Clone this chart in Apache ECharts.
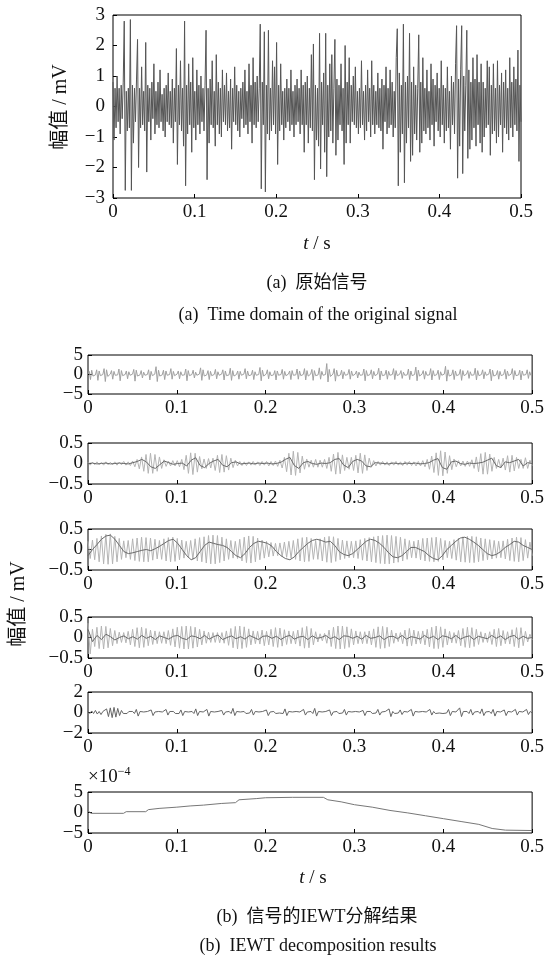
<!DOCTYPE html>
<html>
<head>
<meta charset="utf-8">
<script src="https://cdn.jsdelivr.net/npm/echarts@6/dist/echarts.min.js"></script>
<style>
html, body { margin: 0; padding: 0; background: #fff; }
#chart { width: 547px; height: 968px; }
</style>
</head>
<body>
<div id="chart"></div>
<script>
// ---------- data ----------
const T_END = 0.5;                      // record length, s
const xTicks = [0, 0.1, 0.2, 0.3, 0.4, 0.5];

// (a) raw signal, mV (uniformly sampled over 0..0.5 s)
const originalSignal = [
  0.8, -1.1, 0.6, -0.7, 1.0, -0.5, 0.6, -0.9, 0.7, -0.4, 0.8, 2.8, -2.75, 0.5, -0.8, 0.6, -0.7, 2.85, -2.75, 0.7,
  -1.2, 0.6, -0.5, 0.9, 2.2, -2.0, 0.6, -0.7, 1.3, -0.6, 0.5, -0.8, 2.1, -2.15, 0.7, -0.5, 0.6, -1.1, 0.8, -0.4,
  1.4, -0.9, 0.5, -0.6, 0.8, -0.7, 1.2, -0.5, 0.4, -0.8, 0.6, -1.0, 0.7, -0.5, 1.1, -0.6, 0.5, -0.7, 0.9, -1.2,
  0.6, -0.5, 1.9, -1.9, 0.7, -0.6, 1.5, -0.8, 0.6, -1.3, 2.8, -2.6, 0.7, -0.9, 1.4, -0.6, 0.8, -1.5, 1.6, -0.7,
  0.5, -1.1, 1.2, -0.6, 0.7, -0.9, 1.0, -0.5, 0.6, -0.8, 0.7, 2.5, -2.4, 0.6, -1.2, 0.9, -0.6, 1.5, -0.7, 0.5,
  -1.3, 1.7, -0.6, 0.8, -0.9, 0.6, -1.0, 1.2, -0.5, 0.7, -0.6, 1.1, -0.8, 0.5, -0.7, 0.9, -1.4, 0.6, -0.5, 1.3,
  -0.6, 0.7, -0.8, 0.5, -1.0, 0.6, -0.4, 0.8, -0.7, 1.2, -0.6, 0.5, -0.9, 1.4, -0.5, 0.7, -1.2, 1.6, -0.6, 0.8,
  -0.7, 1.0, -0.5, 0.6, 2.7, -2.7, 0.8, -0.6, 2.45, -2.8, 0.7, -0.9, 2.5, -1.1, 0.6, -0.8, 1.5, -0.6, 1.3, -0.9,
  2.1, -1.9, 0.7, -0.8, 1.4, -0.6, 0.5, -1.1, 0.6, -0.7, 0.9, -0.5, 0.6, -0.8, 1.2, -0.6, 0.5, -1.0, 0.7, -0.6,
  0.9, -0.5, 0.6, -0.9, 1.2, -0.6, 0.7, -1.5, 0.8, -0.6, 1.0, -1.2, 0.6, -0.7, 1.7, -0.8, 2.05, -2.4, 0.7, -1.1,
  0.6, -1.3, 2.4, -2.05, 0.8, -0.6, 1.1, -1.5, 2.4, -2.3, 0.7, -1.0, 1.4, -0.8, 1.7, -1.2, 0.6, 2.2, -1.6, 0.9,
  -1.1, 0.7, -0.6, 1.4, -0.8, 0.6, -1.9, 2.0, -1.2, 0.8, -0.6, 1.6, -1.2, 0.7, -0.5, 1.0, -0.6, 1.3, -0.7, 0.5,
  -0.9, 0.6, -0.7, 1.5, -0.6, 0.5, -1.1, 0.7, -0.8, 1.2, -0.5, 0.6, -1.0, 1.5, -0.6, 0.7, -0.9, 0.5, -0.6, 1.1,
  -0.7, 0.6, -0.8, 0.9, -1.4, 0.7, -0.5, 1.3, -0.9, 0.6, -0.7, 1.2, -0.6, 0.8, -1.0, 0.5, -0.7, 1.6, 2.55, -2.6,
  1.1, -1.5, 0.7, -0.9, 2.7, -2.5, 0.8, -1.2, 1.0, -0.7, 2.4, -1.8, 0.8, -1.6, 1.3, -0.9, 0.7, -1.1, 0.6, 2.35,
  -1.5, 0.8, -1.2, 1.6, -0.8, 0.6, -0.9, 1.2, -0.7, 0.5, -1.1, 1.4, -0.6, 0.9, -1.3, 0.7, -0.5, 1.1, -0.8, 0.6,
  -1.0, 1.5, -0.6, 0.7, -1.2, 0.6, -0.8, 1.3, -0.7, 0.5, -1.4, 1.0, -0.6, 0.8, -0.9, 1.4, 2.65, -2.35, 0.9, -1.3,
  1.2, 2.65, -2.2, 1.0, -0.8, 0.7, 2.5, -1.7, 1.2, -1.4, 0.8, -1.1, 1.6, -0.7, 0.9, -1.3, 1.7, -0.6, 0.8, -1.2,
  1.4, -1.5, 0.8, -1.0, 0.6, -0.7, 1.5, -0.6, 1.3, -1.6, 0.7, -0.9, 1.4, -0.8, 0.6, -1.2, 1.5, -1.0, 0.7, -0.6,
  1.1, -1.5, 0.8, -0.7, 1.2, -0.9, 0.6, -1.1, 1.6, -0.7, 0.8, -1.0, 1.3, -0.6, 0.9, -0.8, 1.85, -1.8, 0.7, -0.5
];

// (b) IEWT components, mV
const mode1 = [
  0.1, 0.8, -1.3, 1.1, -0.4, 0.0, -0.1, 1.2, -1.5, 0.9, -0.3, 0.1, 0.0, 1.5, -1.8, 1.2, -0.5, -0.1, 0.1, 1.0, -1.2, 0.8, -0.2, 0.0,
  -0.1, 1.4, -1.6, 1.0, -0.3, 0.1, 0.0, 0.9, -1.1, 0.7, -0.2, -0.1, 0.1, 1.3, -1.7, 1.1, -0.4, 0.0, -0.1, 1.0, -0.9, 0.6, -0.2, 0.1,
  0.0, 1.2, -1.4, 0.8, -0.3, -0.1, 0.1, 2.0, -1.8, 1.1, -0.4, 0.0, -0.1, 1.1, -1.3, 0.9, -0.2, 0.1, 0.0, 1.5, -1.2, 0.8, -0.3, -0.1,
  0.1, 0.9, -1.1, 0.7, -0.2, 0.0, -0.1, 1.4, -1.6, 1.0, -0.3, 0.1, 0.0, 1.1, -0.9, 0.6, -0.2, -0.1, 0.1, 1.7, -1.5, 1.2, -0.4, 0.0,
  -0.1, 1.0, -1.3, 0.8, -0.3, 0.1, 0.0, 1.3, -1.1, 0.7, -0.2, -0.1, 0.1, 1.2, -1.4, 0.9, -0.3, 0.0, -0.1, 1.6, -1.5, 1.0, -0.4, 0.1,
  0.0, 0.9, -1.2, 0.8, -0.2, -0.1, 0.1, 1.5, -1.1, 0.9, -0.3, 0.0, -0.1, 1.1, -1.3, 0.7, -0.2, 0.1, 0.0, 1.8, -1.6, 1.1, -0.4, -0.1,
  0.1, 1.2, -1.1, 0.7, -0.3, 0.0, -0.1, 1.0, -1.4, 0.9, -0.2, 0.1, 0.0, 1.3, -1.2, 0.8, -0.3, -0.1, 0.1, 0.9, -1.3, 1.0, -0.2, 0.0,
  -0.1, 1.4, -1.2, 0.9, -0.3, 0.1, 0.0, 1.5, -1.4, 1.0, -0.4, -0.1, 0.1, 1.3, -1.5, 1.0, -0.3, 0.0, -0.1, 1.7, -1.2, 0.8, -0.2, 0.1,
  0.0, 2.8, -1.9, 1.3, -0.5, -0.1, 0.1, 1.5, -1.7, 1.1, -0.4, 0.0, -0.1, 1.1, -1.1, 0.7, -0.2, 0.1, 0.0, 1.3, -1.2, 0.9, -0.3, -0.1,
  0.1, 0.9, -0.9, 0.6, -0.2, 0.0, -0.1, 1.4, -1.6, 1.0, -0.3, 0.1, 0.0, 1.2, -1.1, 0.8, -0.3, -0.1, 0.1, 1.6, -1.4, 0.9, -0.3, 0.0,
  -0.1, 1.1, -1.2, 0.8, -0.2, 0.1, 0.0, 1.5, -1.3, 1.0, -0.3, -0.1, 0.1, 1.0, -1.0, 0.6, -0.2, 0.0, -0.1, 1.4, -1.3, 0.9, -0.3, 0.1,
  0.0, 1.9, -1.6, 1.1, -0.4, -0.1, 0.1, 1.0, -1.2, 0.8, -0.2, 0.0, -0.1, 1.5, -1.4, 1.0, -0.3, 0.1, 0.0, 1.1, -1.3, 0.7, -0.2, -0.1,
  0.1, 2.1, -1.7, 1.2, -0.4, 0.0, -0.1, 1.2, -1.3, 0.9, -0.3, 0.1, 0.0, 1.3, -1.5, 1.0, -0.3, -0.1, 0.1, 1.0, -1.0, 0.7, -0.2, 0.0,
  -0.1, 1.6, -1.4, 1.0, -0.3, 0.1, 0.0, 1.2, -1.1, 0.7, -0.2, -0.1, 0.1, 1.4, -1.6, 1.1, -0.4, 0.0, -0.1, 1.0, -1.2, 0.8, -0.3, 0.1,
  0.0, 1.3, -1.2, 0.9, -0.3, -0.1, 0.1, 1.5, -1.3, 1.0, -0.3, 0.0, -0.1, 1.1, -1.4, 0.9, -0.2, 0.1, 0.0, 1.2, -1.0, 0.7, -0.2, 0.0
];

const mode2Fast = [
  0.03, -0.04, 0.03, -0.03, 0.04, -0.03, 0.03, -0.04, 0.04, -0.03, 0.03, -0.03, 0.04, -0.04, 0.03, -0.03, 0.05, -0.04, 0.04, -0.05,
  0.06, -0.08, 0.10, -0.13, 0.16, -0.19, 0.22, -0.24, 0.25, -0.24, 0.22, -0.19, 0.16, -0.12, 0.09, -0.07, 0.06, -0.06, 0.07, -0.06,
  0.07, -0.08, 0.10, -0.15, 0.20, -0.24, 0.26, -0.27, 0.25, -0.21, 0.17, -0.13, 0.11, -0.12, 0.12, -0.11, 0.13, -0.17, 0.20, -0.22,
  0.22, -0.21, 0.19, -0.16, 0.13, -0.10, 0.08, -0.06, 0.05, -0.05, 0.04, -0.05, 0.04, -0.04, 0.05, -0.04, 0.04, -0.05, 0.05, -0.04,
  0.05, -0.06, 0.05, -0.05, 0.06, -0.07, 0.08, -0.11, 0.15, -0.20, 0.25, -0.28, 0.30, -0.29, 0.27, -0.23, 0.18, -0.14, 0.11, -0.09,
  0.08, -0.09, 0.10, -0.09, 0.08, -0.09, 0.10, -0.12, 0.15, -0.19, 0.23, -0.26, 0.27, -0.25, 0.21, -0.17, 0.15, -0.14, 0.15, -0.17,
  0.20, -0.23, 0.25, -0.24, 0.21, -0.17, 0.13, -0.09, 0.07, -0.06, 0.05, -0.04, 0.05, -0.04, 0.04, -0.05, 0.04, -0.04, 0.05, -0.04,
  0.04, -0.05, 0.05, -0.04, 0.05, -0.05, 0.04, -0.06, 0.05, -0.06, 0.07, -0.08, 0.10, -0.14, 0.18, -0.22, 0.26, -0.29, 0.31, -0.30,
  0.28, -0.24, 0.19, -0.15, 0.11, -0.08, 0.07, -0.06, 0.06, -0.07, 0.06, -0.07, 0.09, -0.12, 0.16, -0.20, 0.24, -0.26, 0.27, -0.26,
  0.23, -0.19, 0.15, -0.12, 0.10, -0.11, 0.13, -0.16, 0.19, -0.21, 0.20, -0.18, 0.15, -0.12, 0.10, -0.12, 0.14, -0.12, 0.08, -0.05
];
const mode2Slow = [
  0.0, 0.01, -0.01, 0.0, 0.01, -0.01, 0.0, 0.01, 0.0, -0.01, 0.02, 0.05, 0.1, 0.04, -0.08, -0.12, -0.03, 0.06, 0.02, -0.02,
  0.0, 0.01, -0.06, 0.08, 0.14, -0.05, -0.1, 0.0, 0.06, 0.1, -0.04, -0.08, 0.02, 0.04, -0.01, 0.0, 0.01, -0.01, 0.01, 0.0,
  0.01, -0.01, 0.0, 0.03, 0.1, 0.15, -0.05, -0.12, 0.02, 0.05, 0.0, -0.02, 0.01, 0.0, 0.02, 0.1, 0.12, -0.04, -0.1, 0.05,
  0.1, 0.06, -0.06, -0.08, 0.02, 0.01, 0.0, -0.01, 0.01, 0.0, -0.01, 0.01, 0.0, 0.01, -0.01, 0.0, 0.02, 0.08, 0.12, -0.1,
  -0.14, 0.04, 0.06, 0.0, -0.02, 0.01, 0.0, 0.01, 0.03, 0.08, 0.13, -0.05, -0.1, 0.04, 0.02, 0.06, 0.1, -0.06, 0.02, 0.0
];

const mode3Fast = [
  0.20, -0.22, 0.23, -0.25, 0.27, -0.30, 0.33, -0.35, 0.37, -0.36, 0.38, -0.35, 0.32, -0.30, 0.27, -0.24, 0.21, -0.20, 0.22, -0.24,
  0.26, -0.27, 0.28, -0.29, 0.30, -0.30, 0.29, -0.30, 0.28, -0.26, 0.25, -0.23, 0.22, -0.24, 0.26, -0.28, 0.29, -0.30, 0.30, -0.29,
  0.27, -0.25, 0.23, -0.21, 0.20, -0.20, 0.22, -0.24, 0.26, -0.28, 0.29, -0.30, 0.31, -0.33, 0.34, -0.35, 0.35, -0.35, 0.34, -0.32,
  0.30, -0.28, 0.26, -0.24, 0.22, -0.21, 0.20, -0.22, 0.25, -0.28, 0.30, -0.32, 0.33, -0.33, 0.32, -0.30, 0.28, -0.25, 0.23, -0.21,
  0.20, -0.18, 0.17, -0.16, 0.15, -0.15, 0.16, -0.17, 0.18, -0.19, 0.20, -0.21, 0.22, -0.24, 0.26, -0.28, 0.29, -0.30, 0.30, -0.29,
  0.27, -0.24, 0.22, -0.24, 0.26, -0.28, 0.30, -0.31, 0.32, -0.32, 0.31, -0.29, 0.27, -0.25, 0.23, -0.22, 0.21, -0.20, 0.20, -0.20,
  0.21, -0.22, 0.24, -0.26, 0.27, -0.28, 0.29, -0.30, 0.31, -0.32, 0.33, -0.34, 0.34, -0.35, 0.35, -0.35, 0.34, -0.33, 0.32, -0.31,
  0.30, -0.28, 0.26, -0.24, 0.22, -0.20, 0.20, -0.21, 0.23, -0.25, 0.27, -0.28, 0.28, -0.29, 0.29, -0.30, 0.30, -0.29, 0.27, -0.25,
  0.22, -0.20, 0.20, -0.22, 0.24, -0.26, 0.28, -0.30, 0.31, -0.31, 0.32, -0.32, 0.32, -0.32, 0.31, -0.30, 0.28, -0.27, 0.26, -0.25,
  0.24, -0.23, 0.22, -0.21, 0.20, -0.20, 0.21, -0.23, 0.25, -0.27, 0.28, -0.29, 0.30, -0.30, 0.29, -0.27, 0.24, -0.21, 0.18, -0.15
];
const mode3Slow = [
  -0.15, 0.0, 0.12, 0.25, 0.33, 0.35, 0.25, 0.1, -0.05, -0.1, -0.08, -0.05, -0.02, 0.0, -0.03, 0.02, 0.08, 0.15, 0.22, 0.25,
  0.15, 0.0, -0.15, -0.25, -0.2, -0.05, 0.1, 0.18, 0.15, 0.12, 0.1, 0.05, -0.05, -0.15, -0.2, -0.1, 0.05, 0.15, 0.2, 0.18,
  0.15, 0.08, -0.05, -0.15, -0.22, -0.25, -0.18, -0.05, 0.05, 0.15, 0.22, 0.25, 0.22, 0.18, 0.2, 0.1, -0.05, -0.12, -0.15, -0.1,
  0.0, 0.1, 0.2, 0.25, 0.22, 0.15, 0.05, -0.08, -0.18, -0.2, -0.15, -0.05, 0.05, 0.05, 0.0, -0.05, -0.15, -0.22, -0.25, -0.15,
  0.0, 0.1, 0.2, 0.28, 0.3, 0.25, 0.18, 0.1, 0.0, -0.1, -0.15, -0.12, -0.05, 0.05, 0.12, 0.2, 0.18, 0.1, 0.05, 0.0
];

const mode4Fast = [
  0.35, -0.4, 0.2, -0.22, 0.25, -0.27, 0.28, -0.28, 0.27, -0.25, 0.22, -0.2, 0.17, -0.15, 0.13, -0.12, 0.12, -0.13, 0.15, -0.18,
  0.2, -0.22, 0.24, -0.25, 0.25, -0.24, 0.22, -0.2, 0.18, -0.17, 0.16, -0.15, 0.14, -0.14, 0.14, -0.15, 0.17, -0.19, 0.21, -0.23,
  0.25, -0.26, 0.27, -0.28, 0.28, -0.28, 0.27, -0.26, 0.25, -0.23, 0.2, -0.18, 0.16, -0.14, 0.13, -0.12, 0.12, -0.12, 0.12, -0.13,
  0.12, -0.14, 0.16, -0.19, 0.22, -0.25, 0.27, -0.28, 0.28, -0.27, 0.26, -0.24, 0.21, -0.18, 0.16, -0.15, 0.15, -0.16, 0.18, -0.2,
  0.15, -0.18, 0.2, -0.22, 0.24, -0.24, 0.23, -0.21, 0.19, -0.17, 0.16, -0.15, 0.15, -0.16, 0.18, -0.21, 0.24, -0.26, 0.27, -0.25,
  0.22, -0.18, 0.14, -0.11, 0.09, -0.08, 0.1, -0.14, 0.18, -0.22, 0.25, -0.27, 0.28, -0.28, 0.28, -0.27, 0.26, -0.24, 0.21, -0.18,
  0.16, -0.15, 0.14, -0.15, 0.14, -0.15, 0.16, -0.18, 0.21, -0.24, 0.26, -0.27, 0.27, -0.26, 0.25, -0.22, 0.18, -0.14, 0.11, -0.1,
  0.12, -0.15, 0.18, -0.21, 0.22, -0.2, 0.18, -0.16, 0.15, -0.15, 0.16, -0.18, 0.2, -0.23, 0.25, -0.27, 0.28, -0.27, 0.26, -0.24,
  0.21, -0.18, 0.15, -0.13, 0.12, -0.14, 0.17, -0.2, 0.22, -0.24, 0.25, -0.25, 0.24, -0.22, 0.2, -0.17, 0.14, -0.12, 0.11, -0.12,
  0.14, -0.17, 0.2, -0.22, 0.22, -0.2, 0.17, -0.15, 0.14, -0.16, 0.19, -0.22, 0.24, -0.25, 0.24, -0.2, 0.15, -0.11, 0.08, -0.06
];
const mode4Slow = [
  0.2, -0.1, 0.05, -0.05, 0.08, 0.02, -0.06, 0.0, 0.04, -0.03, 0.02, -0.04, 0.05, -0.02, 0.03, -0.05, 0.04, 0.0, -0.04, 0.03,
  0.05, -0.02, -0.05, 0.04, 0.02, -0.03, 0.05, -0.04, 0.02, 0.06, -0.05, 0.0, 0.04, -0.03, 0.02, -0.04, 0.05, 0.0, -0.05, 0.03,
  0.04, -0.02, 0.03, -0.05, 0.02, 0.05, -0.04, 0.01, 0.03, -0.05, 0.04, -0.02, 0.0, 0.05, -0.03, 0.02, -0.05, 0.04, 0.03, -0.02,
  0.03, -0.04, 0.05, -0.02, 0.0, 0.04, -0.05, 0.02, 0.03, -0.03, 0.05, -0.04, 0.02, 0.0, -0.04, 0.05, -0.02, 0.03, -0.05, 0.04,
  0.02, -0.03, 0.05, -0.04, 0.01, 0.04, -0.05, 0.03, 0.0, -0.03, 0.05, -0.02, 0.04, -0.05, 0.02, 0.05, -0.04, 0.03, -0.02, 0.0
];

const mode5 = [
  0.1, -0.1, 0.15, -0.1, 0.2, -0.15, 0.1, -0.2, 0.1, -0.05, 0.35, -0.4, 0.45, -0.5, 0.5, -0.45, 0.4, -0.3, 0.2, -0.1,
  0.05, -0.1, 0.1, -0.05, 0.1, -0.1, 0.3, -0.35, 0.1, -0.05, 0.05, -0.1, 0.1, -0.05, 0.25, -0.3, 0.05, -0.1, 0.1, -0.05,
  0.05, -0.05, 0.3, -0.25, 0.1, -0.05, 0.1, -0.1, 0.05, -0.1, 0.25, -0.3, 0.1, -0.05, 0.05, -0.05, 0.1, -0.1, 0.35, -0.3,
  0.1, -0.05, 0.05, -0.1, 0.3, -0.35, 0.1, -0.05, 0.05, -0.1, 0.1, -0.05, 0.2, -0.25, 0.05, -0.05, 0.1, -0.1, 0.4, -0.3,
  0.1, -0.05, 0.05, -0.05, 0.1, -0.1, 0.05, -0.05, 0.3, -0.25, 0.1, -0.05, 0.05, -0.1, 0.1, -0.05, 0.25, -0.3, 0.05, -0.05,
  0.1, -0.1, 0.05, -0.05, 0.1, -0.1, 0.35, -0.3, 0.1, -0.05, 0.05, -0.1, 0.1, -0.05, 0.05, -0.1, 0.3, -0.25, 0.05, -0.05,
  0.1, -0.1, 0.4, -0.35, 0.1, -0.05, 0.05, -0.1, 0.1, -0.05, 0.25, -0.3, 0.05, -0.05, 0.1, -0.1, 0.05, -0.05, 0.3, -0.25,
  0.1, -0.05, 0.05, -0.1, 0.1, -0.05, 0.05, -0.05, 0.2, -0.3, 0.1, -0.05, 0.1, -0.1, 0.05, -0.05, 0.3, -0.25, 0.05, -0.1,
  0.1, -0.05, 0.35, -0.4, 0.1, -0.1, 0.05, -0.05, 0.25, -0.2, 0.1, -0.05, 0.05, -0.1, 0.3, -0.35, 0.1, -0.05, 0.05, -0.1,
  0.1, -0.05, 0.05, -0.05, 0.3, -0.25, 0.1, -0.1, 0.05, -0.05, 0.1, -0.1, 0.05, -0.05, 0.3, -0.3, 0.1, -0.05, 0.05, -0.1,
  0.45, -0.4, 0.1, -0.05, 0.1, -0.1, 0.3, -0.25, 0.05, -0.05, 0.1, -0.1, 0.35, -0.3, 0.05, -0.05, 0.1, -0.1, 0.3, -0.35,
  0.1, -0.05, 0.05, -0.1, 0.25, -0.3, 0.1, -0.05, 0.05, -0.1, 0.3, -0.25, 0.1, -0.05, 0.05, -0.1, 0.3, -0.2, 0.1, -0.05
];

// residual trend, in units of 1e-4 mV
const TREND_SCALE_EXP = -4;
const trendTime = [0, 0.003, 0.04, 0.043, 0.065, 0.068, 0.08, 0.1, 0.115, 0.13, 0.15, 0.166, 0.17, 0.19, 0.2,
                   0.23, 0.265, 0.27, 0.285, 0.3, 0.32, 0.34, 0.36, 0.38, 0.4, 0.42, 0.44, 0.455, 0.47, 0.5];
const trendValue = [0.5, -0.2, -0.2, 0.2, 0.2, 0.7, 1.0, 1.3, 1.6, 1.8, 2.2, 2.4, 3.1, 3.4, 3.6,
                    3.7, 3.7, 3.1, 2.6, 1.9, 1.3, 0.5, -0.1, -0.8, -1.5, -2.2, -2.9, -3.9, -4.3, -4.4];

// ---------- layout & styling ----------
const SERIF = "'Liberation Serif', 'Times New Roman', 'Noto Sans CJK SC', serif";
const TICK_FONT = 19;

const panels = [
  { grid: { left: 113, top: 15, width: 408, height: 183 }, y: [-3, 3, 1], labelMarginY: 8, labelMarginX: 5 },
  { grid: { left: 88, top: 355, width: 449, height: 39 }, y: [-5, 5, 5], labelMarginY: 5, labelMarginX: 5 },
  { grid: { left: 88, top: 443, width: 449, height: 41 }, y: [-0.5, 0.5, 0.5], labelMarginY: 5, labelMarginX: 5 },
  { grid: { left: 88, top: 529, width: 449, height: 41 }, y: [-0.5, 0.5, 0.5], labelMarginY: 5, labelMarginX: 5 },
  { grid: { left: 88, top: 617, width: 449, height: 41 }, y: [-0.5, 0.5, 0.5], labelMarginY: 5, labelMarginX: 5 },
  { grid: { left: 88, top: 692, width: 449, height: 41 }, y: [-2, 2, 2], labelMarginY: 5, labelMarginX: 5 },
  { grid: { left: 88, top: 792, width: 449, height: 41 }, y: [-5, 5, 5], labelMarginY: 5, labelMarginX: 5 }
];

const fmtNum = v => {
  const r = Math.round(v * 1000) / 1000;
  return (r < 0 ? '\u2212' : '') + String(Math.abs(r));
};

// uniformly sampled values -> [t, value] pairs
const sampled = vals => vals.map((v, i) => [i * T_END / (vals.length - 1), v]);

const lineSeries = (idx, data, color, width) => ({
  type: 'line', xAxisIndex: idx, yAxisIndex: idx, data,
  symbol: 'none', showSymbol: false, silent: true, animation: false, clip: true,
  lineStyle: { color, width }
});

const option = {
  backgroundColor: '#fff',
  animation: false,
  grid: panels.map(p => Object.assign({ show: true, borderColor: '#000', borderWidth: 1, backgroundColor: 'transparent' }, p.grid)),
  xAxis: panels.map((p, i) => ({
    type: 'value', gridIndex: i, position: 'bottom',
    min: xTicks[0], max: xTicks[xTicks.length - 1], interval: 0.1,
    axisLine: { show: false, onZero: false },
    axisTick: { show: true, inside: true, length: 4, lineStyle: { color: '#000', width: 1 } },
    splitLine: { show: false },
    axisLabel: { show: true, margin: p.labelMarginX, color: '#111', fontFamily: SERIF, fontSize: TICK_FONT, formatter: fmtNum, showMinLabel: true, showMaxLabel: true }
  })),
  yAxis: panels.map((p, i) => ({
    type: 'value', gridIndex: i, position: 'left',
    min: p.y[0], max: p.y[1], interval: p.y[2],
    axisLine: { show: false, onZero: false },
    axisTick: { show: true, inside: true, length: 4, lineStyle: { color: '#000', width: 1 } },
    splitLine: { show: false },
    axisLabel: { show: true, margin: p.labelMarginY, color: '#111', fontFamily: SERIF, fontSize: TICK_FONT, formatter: fmtNum, showMinLabel: true, showMaxLabel: true }
  })),
  series: [
    lineSeries(0, sampled(originalSignal), '#555', 1),
    lineSeries(1, sampled(mode1), '#a0a0a0', 1),
    lineSeries(2, sampled(mode2Fast), '#b4b4b4', 1),
    lineSeries(2, sampled(mode2Slow), '#6a6a6a', 1),
    lineSeries(3, sampled(mode3Fast), '#b4b4b4', 1),
    lineSeries(3, sampled(mode3Slow), '#6a6a6a', 1),
    lineSeries(4, sampled(mode4Fast), '#b4b4b4', 1),
    lineSeries(4, sampled(mode4Slow), '#6a6a6a', 1),
    lineSeries(5, sampled(mode5), '#666', 1),
    lineSeries(6, trendTime.map((t, i) => [t, trendValue[i]]), '#777', 1)
  ],
  graphic: [
    { type: 'text', x: 61, y: 107, rotation: Math.PI / 2,
      style: { text: '幅值 / mV', fontFamily: SERIF, fontSize: 20, fill: '#111', align: 'center', verticalAlign: 'middle' } },
    { type: 'text', x: 317, y: 244,
      style: { text: '{it|t} / s', fontFamily: SERIF, fontSize: 19, fill: '#111', align: 'center', verticalAlign: 'middle',
               rich: { it: { fontStyle: 'italic', fontFamily: SERIF, fontSize: 19, fill: '#111' } } } },
    { type: 'text', x: 317, y: 283,
      style: { text: '(a)  原始信号', fontFamily: SERIF, fontSize: 18, fill: '#111', align: 'center', verticalAlign: 'middle' } },
    { type: 'text', x: 318, y: 315,
      style: { text: '(a)  Time domain of the original signal', fontFamily: SERIF, fontSize: 18, fill: '#111', align: 'center', verticalAlign: 'middle' } },
    { type: 'text', x: 19, y: 604, rotation: Math.PI / 2,
      style: { text: '幅值 / mV', fontFamily: SERIF, fontSize: 20, fill: '#111', align: 'center', verticalAlign: 'middle' } },
    { type: 'text', x: 88, y: 777,
      style: { text: '×10{sup|' + '\u2212' + Math.abs(TREND_SCALE_EXP) + '}', fontFamily: SERIF, fontSize: 19, fill: '#111', align: 'left', verticalAlign: 'middle',
               rich: { sup: { fontFamily: SERIF, fontSize: 12, fill: '#111', padding: [0, 0, 10, 0] } } } },
    { type: 'text', x: 313, y: 878,
      style: { text: '{it|t} / s', fontFamily: SERIF, fontSize: 19, fill: '#111', align: 'center', verticalAlign: 'middle',
               rich: { it: { fontStyle: 'italic', fontFamily: SERIF, fontSize: 19, fill: '#111' } } } },
    { type: 'text', x: 317, y: 917,
      style: { text: '(b)  信号的IEWT分解结果', fontFamily: SERIF, fontSize: 18, fill: '#111', align: 'center', verticalAlign: 'middle' } },
    { type: 'text', x: 318, y: 946,
      style: { text: '(b)  IEWT decomposition results', fontFamily: SERIF, fontSize: 18, fill: '#111', align: 'center', verticalAlign: 'middle' } }
  ]
};

const chart = echarts.init(document.getElementById('chart'), null, { renderer: 'canvas' });
chart.setOption(option);
</script>
</body>
</html>
